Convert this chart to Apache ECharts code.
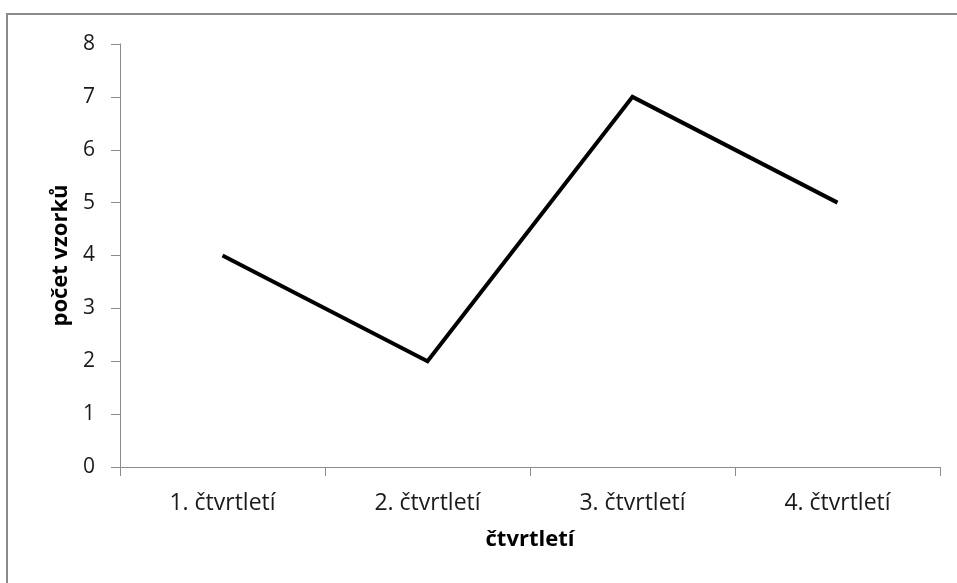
<!DOCTYPE html>
<html>
<head>
<meta charset="utf-8">
<script src="https://cdn.jsdelivr.net/npm/echarts@6/dist/echarts.min.js"></script>
<style>
  html, body { margin: 0; padding: 0; background: #fff; }
  #chart { width: 957px; height: 583px; }
</style>
</head>
<body>
<div id="chart"></div>
<script>
// Počet vzorků za jednotlivá čtvrtletí
const categories = ['1. čtvrtletí', '2. čtvrtletí', '3. čtvrtletí', '4. čtvrtletí'];
const sampleCounts = [4, 2, 7, 5];
const yTicks = [0, 1, 2, 3, 4, 5, 6, 7, 8];

const FONT = 'Open Sans';
const AXIS_GREY = '#8c8c8c';

const chart = echarts.init(document.getElementById('chart'), null, { renderer: 'canvas' });

chart.setOption({
  backgroundColor: '#ffffff',
  animation: false,
  textStyle: { fontFamily: FONT },
  graphic: [
    {
      // outer frame of the chart area (top and left edges visible)
      type: 'rect',
      shape: { x: 7, y: 14, width: 1000, height: 700 },
      style: { fill: 'none', stroke: '#8a8a8a', lineWidth: 2 },
      silent: true
    }
  ],
  grid: { left: 120, right: 17, top: 44, bottom: 116, containLabel: false },
  xAxis: {
    type: 'category',
    data: categories,
    boundaryGap: true,
    name: 'čtvrtletí',
    nameLocation: 'middle',
    nameGap: 62,
    nameTextStyle: { fontFamily: FONT, fontSize: 22, fontWeight: 'bold', color: '#000' },
    axisLine: { show: true, lineStyle: { color: AXIS_GREY, width: 1 } },
    axisTick: { show: true, alignWithLabel: false, length: 9, lineStyle: { color: AXIS_GREY } },
    axisLabel: { fontFamily: FONT, fontSize: 23, color: '#1a1a1a', margin: 25 },
    splitLine: { show: false }
  },
  yAxis: {
    type: 'value',
    min: yTicks[0],
    max: yTicks[yTicks.length - 1],
    interval: 1,
    name: 'počet vzorků',
    nameLocation: 'middle',
    nameGap: 47,
    nameRotate: 90,
    nameTextStyle: { fontFamily: FONT, fontSize: 22, fontWeight: 'bold', color: '#000' },
    axisLine: { show: true, lineStyle: { color: AXIS_GREY, width: 1 } },
    axisTick: { show: true, inside: false, length: 9, lineStyle: { color: AXIS_GREY } },
    axisLabel: { fontFamily: FONT, fontSize: 21, color: '#1a1a1a', margin: 25 },
    splitLine: { show: false }
  },
  series: [
    {
      type: 'line',
      data: sampleCounts,
      symbol: 'none',
      lineStyle: { color: '#000000', width: 4, join: 'miter' },
      itemStyle: { color: '#000000' }
    }
  ]
});
</script>
</body>
</html>
